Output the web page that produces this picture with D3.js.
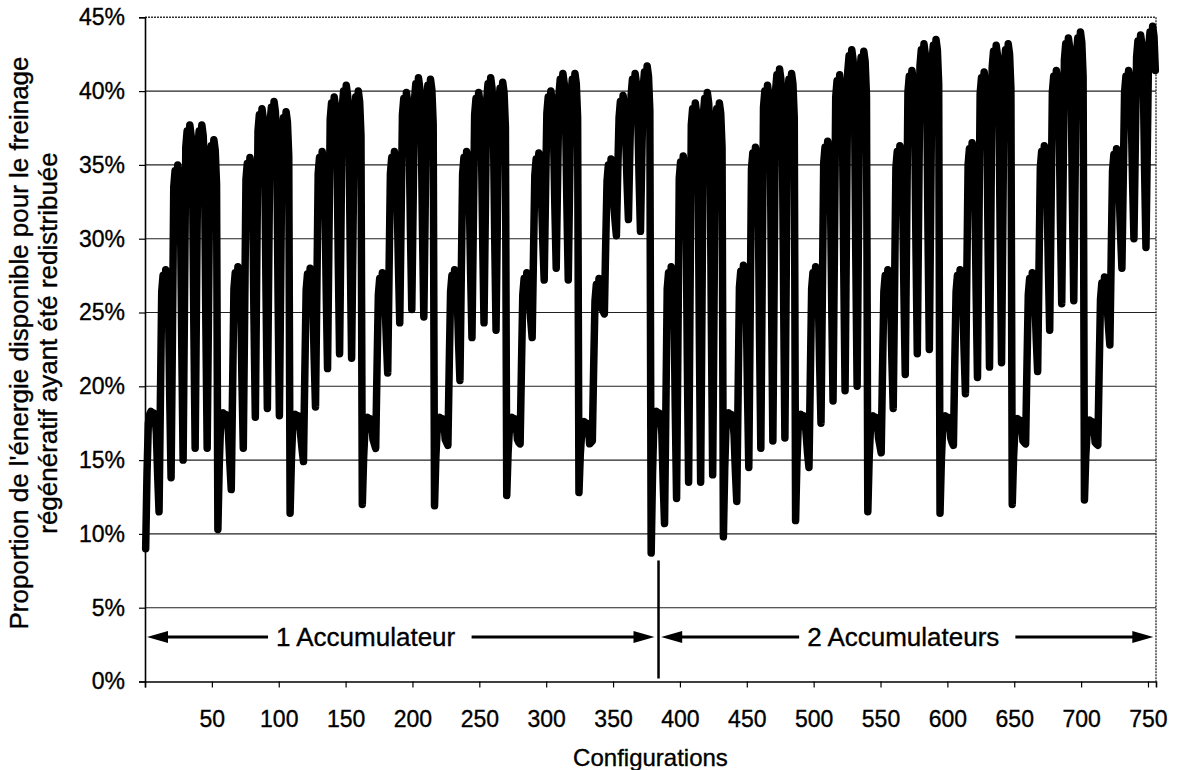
<!DOCTYPE html>
<html>
<head>
<meta charset="utf-8">
<script src="https://cdn.jsdelivr.net/npm/d3@7/dist/d3.min.js"></script>
<style>
  html, body { margin: 0; padding: 0; background: #ffffff; }
  svg { display: block; font-family: Arial, "Liberation Sans", sans-serif; }
  svg text { fill: #000; stroke: #000; stroke-width: 0.35px; }
</style>
</head>
<body>
<svg id="chart" width="1181" height="770"></svg>
<script>
// Share of available regenerative-braking energy that was redistributed,
// for each of the 756 simulated configurations (values in %).
// Configurations 1-378: one accumulator; 379-756: two accumulators.
// Each block holds 54 configurations, written as 6 rows of 9 values.
const bloc01 = [
  9.0, 14.1, 17.5, 18.1, 18.3, 17.5, 18.2, 18.0, 16.8,
  13.9, 11.5, 18.9, 26.4, 27.5, 26.5, 27.9, 27.2, 25.9,
  19.2, 13.8, 23.3, 33.5, 34.6, 33.4, 35.0, 34.3, 32.0,
  22.7, 15.0, 25.2, 36.2, 37.3, 36.1, 37.7, 37.0, 34.7,
  24.3, 15.8, 25.7, 36.2, 37.3, 36.1, 37.7, 37.0, 34.7,
  24.3, 15.8, 25.2, 35.2, 36.3, 35.1, 36.7, 36.0, 33.7
];
const bloc02 = [
  10.3, 14.6, 17.4, 18.0, 18.2, 17.4, 18.1, 17.9, 16.7,
  14.7, 13.0, 19.8, 26.6, 27.7, 26.5, 28.1, 27.4, 26.1,
  20.4, 15.8, 24.7, 34.0, 35.1, 33.9, 35.5, 34.8, 32.5,
  24.5, 17.9, 27.3, 37.3, 38.4, 37.2, 38.8, 38.1, 35.8,
  26.3, 18.5, 27.9, 37.8, 38.9, 37.7, 39.3, 38.6, 36.3,
  26.2, 18.0, 27.3, 37.1, 38.2, 37.0, 38.6, 37.9, 35.6
];
const bloc03 = [
  11.4, 15.1, 17.3, 17.9, 18.1, 17.3, 18.0, 17.8, 16.6,
  15.7, 14.9, 20.8, 26.5, 27.6, 26.4, 28.0, 27.3, 26.0,
  21.9, 18.6, 26.4, 34.4, 35.5, 34.3, 35.9, 35.2, 32.9,
  26.5, 21.2, 29.5, 38.1, 39.2, 38.0, 39.6, 38.9, 36.6,
  28.7, 22.2, 30.4, 38.9, 40.0, 38.8, 40.4, 39.7, 37.4,
  28.9, 21.9, 30.0, 38.5, 39.6, 38.4, 40.0, 39.3, 37.0
];
const bloc04 = [
  12.0, 15.2, 17.1, 17.7, 17.9, 17.1, 17.8, 17.6, 16.4,
  16.1, 15.8, 21.2, 26.2, 27.3, 26.1, 27.7, 27.0, 25.7,
  23.1, 20.9, 27.7, 34.4, 35.5, 34.3, 35.9, 35.2, 32.9,
  28.2, 24.3, 31.3, 38.4, 39.5, 38.3, 39.9, 39.2, 36.9,
  30.5, 25.2, 32.3, 39.4, 40.5, 39.3, 40.9, 40.2, 37.9,
  30.6, 24.7, 31.9, 39.3, 40.4, 39.2, 40.8, 40.1, 37.8
];
const bloc05 = [
  11.9, 15.2, 17.1, 17.7, 17.9, 17.1, 17.8, 17.6, 16.4,
  16.2, 16.0, 21.4, 26.4, 27.5, 26.3, 27.9, 27.2, 25.9,
  22.9, 20.4, 27.4, 34.4, 35.5, 34.3, 35.9, 35.2, 32.9,
  27.6, 23.3, 30.8, 38.4, 39.5, 38.3, 39.9, 39.2, 36.9,
  30.0, 24.3, 31.8, 39.4, 40.5, 39.3, 40.9, 40.2, 37.9,
  30.1, 23.8, 31.4, 39.1, 40.2, 39.0, 40.6, 39.9, 37.6
];
const bloc06 = [
  12.6, 15.5, 17.1, 17.7, 17.9, 17.1, 17.8, 17.6, 16.4,
  16.2, 16.1, 21.3, 26.2, 27.3, 26.1, 27.7, 27.0, 25.7,
  24.4, 23.3, 28.9, 34.3, 35.4, 34.2, 35.8, 35.1, 32.8,
  29.7, 27.2, 33.0, 38.5, 39.6, 38.4, 40.0, 39.3, 37.0,
  32.1, 28.0, 33.9, 39.7, 40.8, 39.6, 41.2, 40.5, 38.2,
  32.2, 27.2, 33.5, 39.7, 40.8, 39.6, 41.2, 40.5, 38.2
];
const bloc07 = [
  12.8, 15.4, 16.8, 17.4, 17.6, 16.8, 17.5, 17.3, 16.1,
  16.2, 16.3, 21.3, 25.8, 26.9, 25.7, 27.3, 26.6, 25.3,
  25.1, 24.9, 29.6, 33.9, 35.0, 33.8, 35.4, 34.7, 32.4,
  31.2, 30.2, 34.5, 38.2, 39.3, 38.1, 39.7, 39.0, 36.7,
  33.7, 31.3, 35.8, 39.7, 40.8, 39.6, 41.2, 40.5, 38.2,
  34.0, 30.5, 35.5, 40.2, 41.3, 40.1, 41.7, 41.0, 38.7
];
const bloc08 = [
  8.7, 14.0, 17.5, 18.1, 18.3, 17.5, 18.2, 18.0, 16.8,
  13.4, 10.7, 18.5, 26.6, 27.7, 26.5, 28.1, 27.4, 26.1,
  18.6, 12.4, 22.8, 34.1, 35.2, 34.0, 35.6, 34.9, 32.6,
  22.1, 13.5, 25.1, 37.7, 38.8, 37.6, 39.2, 38.5, 36.2,
  23.7, 13.5, 25.4, 38.4, 39.5, 38.3, 39.9, 39.2, 36.9,
  24.3, 14.0, 25.3, 37.7, 38.8, 37.6, 39.2, 38.5, 36.2
];
const bloc09 = [
  9.8, 14.4, 17.4, 18.0, 18.2, 17.4, 18.1, 17.9, 16.7,
  14.2, 12.2, 19.4, 26.7, 27.8, 26.6, 28.2, 27.5, 26.2,
  19.8, 14.5, 24.3, 34.7, 35.8, 34.6, 36.2, 35.5, 33.2,
  23.6, 15.8, 26.9, 38.9, 40.0, 38.8, 40.4, 39.7, 37.4,
  25.8, 16.3, 27.6, 40.0, 41.1, 39.9, 41.5, 40.8, 38.5,
  26.4, 16.5, 27.6, 39.7, 40.8, 39.6, 41.2, 40.5, 38.2
];
const bloc10 = [
  10.9, 14.9, 17.3, 17.9, 18.1, 17.3, 18.0, 17.8, 16.6,
  15.4, 14.5, 20.6, 26.6, 27.7, 26.5, 28.1, 27.4, 26.1,
  21.4, 17.5, 26.1, 35.1, 36.2, 35.0, 36.6, 35.9, 33.6,
  25.6, 19.0, 28.9, 39.6, 40.7, 39.5, 41.1, 40.4, 38.1,
  28.0, 19.7, 30.1, 41.3, 42.4, 41.2, 42.8, 42.1, 39.8,
  28.9, 20.0, 30.2, 41.2, 42.3, 41.1, 42.7, 42.0, 39.7
];
const bloc11 = [
  11.5, 15.1, 17.2, 17.8, 18.0, 17.2, 17.9, 17.7, 16.5,
  16.0, 15.5, 21.1, 26.4, 27.5, 26.3, 27.9, 27.2, 25.9,
  21.8, 18.5, 26.5, 34.8, 35.9, 34.7, 36.3, 35.6, 33.3,
  26.4, 20.8, 30.1, 39.9, 41.0, 39.8, 41.4, 40.7, 38.4,
  29.5, 22.2, 31.7, 41.7, 42.8, 41.6, 43.2, 42.5, 40.2,
  30.5, 22.5, 31.9, 42.0, 43.1, 41.9, 43.5, 42.8, 40.5
];
const bloc12 = [
  11.4, 15.0, 17.2, 17.8, 18.0, 17.2, 17.9, 17.7, 16.5,
  16.2, 16.0, 21.4, 26.4, 27.5, 26.3, 27.9, 27.2, 25.9,
  22.4, 19.5, 27.2, 35.0, 36.1, 34.9, 36.5, 35.8, 33.5,
  26.4, 20.6, 29.9, 39.8, 40.9, 39.7, 41.3, 40.6, 38.3,
  29.0, 21.3, 31.1, 41.6, 42.7, 41.5, 43.1, 42.4, 40.1,
  29.9, 21.6, 31.3, 41.7, 42.8, 41.6, 43.2, 42.5, 40.2
];
const bloc13 = [
  12.0, 15.2, 17.0, 17.6, 17.8, 17.0, 17.7, 17.5, 16.3,
  16.2, 16.1, 21.3, 26.2, 27.3, 26.1, 27.7, 27.0, 25.7,
  23.1, 21.0, 27.9, 34.8, 35.9, 34.7, 36.3, 35.6, 33.3,
  28.1, 23.8, 31.7, 39.9, 41.0, 39.8, 41.4, 40.7, 38.4,
  31.4, 25.6, 33.7, 42.1, 43.2, 42.0, 43.6, 42.9, 40.6,
  32.5, 25.8, 34.0, 42.5, 43.6, 42.4, 44.0, 43.3, 41.0
];
const bloc14 = [
  12.3, 15.3, 16.9, 17.5, 17.7, 16.9, 17.6, 17.4, 16.2,
  16.1, 16.0, 21.1, 25.9, 27.0, 25.8, 27.4, 26.7, 25.4,
  24.0, 22.8, 28.8, 34.6, 35.7, 34.5, 36.1, 35.4, 33.1,
  30.3, 28.0, 34.0, 39.9, 41.0, 39.8, 41.4, 40.7, 38.4,
  33.8, 30.0, 36.2, 42.3, 43.4, 42.2, 43.8, 43.1, 40.8,
  34.5, 29.4, 36.2, 42.9, 44.0, 42.8, 44.4, 43.7, 41.4
];

const unAccumulateur = [].concat(bloc01, bloc02, bloc03, bloc04, bloc05, bloc06, bloc07);
const deuxAccumulateurs = [].concat(bloc08, bloc09, bloc10, bloc11, bloc12, bloc13, bloc14);
const proportion = unAccumulateur.concat(deuxAccumulateurs);
const configurations = proportion.map((_, i) => i + 1);

const yTickValues = [0, 5, 10, 15, 20, 25, 30, 35, 40, 45];
const xTickValues = [50, 100, 150, 200, 250, 300, 350, 400, 450, 500, 550, 600, 650, 700, 750];
const yTitleLines = ["Proportion de l'énergie disponible pour le freinage",
                     "régénératif ayant été redistribuée"];
const xTitle = "Configurations";
const groupNames = ["1 Accumulateur", "2 Accumulateurs"];

// ---- layout ----
const svg = d3.select("#chart");
const plot = { left: 145, right: 1156, top: 17.3, bottom: 681.5 };
const x = d3.scaleLinear().domain([0, configurations.length]).range([plot.left, plot.right]);
const y = d3.scaleLinear().domain([0, 45]).range([plot.bottom, plot.top]);

const tickFont = 23;
const xTitleFont = 24;
const yTitleFont = 26;
const noteFont = 26;

// horizontal gridlines
svg.append("g")
  .selectAll("line")
  .data(yTickValues.filter(v => v > 0 && v < 45))
  .join("line")
  .attr("x1", plot.left).attr("x2", plot.right)
  .attr("y1", d => y(d)).attr("y2", d => y(d))
  .attr("stroke", "#222").attr("stroke-width", 1.1);

// plot-area frame (top and right, dotted)
svg.append("path")
  .attr("d", `M${plot.left},${y(45)}H${plot.right}V${plot.bottom}`)
  .attr("fill", "none").attr("stroke", "#333").attr("stroke-width", 1.4)
  .attr("stroke-dasharray", "2,1");

// y axis
const yAxis = svg.append("g")
  .attr("transform", `translate(${plot.left},0)`)
  .call(d3.axisLeft(y).tickValues(yTickValues).tickFormat(d => d + "%")
        .tickSize(6).tickPadding(14));
yAxis.select(".domain").attr("stroke", "#000").attr("stroke-width", 1.6);
yAxis.selectAll(".tick line").attr("stroke", "#000").attr("stroke-width", 1.2);
yAxis.selectAll("text").attr("font-size", tickFont)
  .attr("font-family", "Arial, 'Liberation Sans', sans-serif");

// x axis
const xAxis = svg.append("g")
  .attr("transform", `translate(0,${plot.bottom})`)
  .call(d3.axisBottom(x).tickValues([0].concat(xTickValues))
        .tickFormat(d => d === 0 ? "" : d).tickSize(6).tickPadding(23));
xAxis.select(".domain").attr("stroke", "#000").attr("stroke-width", 1.6);
xAxis.selectAll(".tick line").attr("stroke", "#000").attr("stroke-width", 1.2);
xAxis.selectAll("text").attr("font-size", tickFont)
  .attr("font-family", "Arial, 'Liberation Sans', sans-serif");

// the series
const line = d3.line()
  .x((d, i) => x(configurations[i] - 0.5))
  .y(d => y(d));
svg.append("path")
  .datum(proportion)
  .attr("d", line)
  .attr("fill", "none")
  .attr("stroke", "#000")
  .attr("stroke-width", 7.5)
  .attr("stroke-linejoin", "round")
  .attr("stroke-linecap", "round");

// axis titles
svg.append("text")
  .attr("x", x(378)).attr("y", 757)
  .attr("text-anchor", "middle").attr("dominant-baseline", "central")
  .attr("font-size", xTitleFont)
  .text(xTitle);

yTitleLines.forEach((t, i) => {
  svg.append("text")
    .attr("transform", `translate(${19 + i * 29},${343}) rotate(-90)`)
    .attr("text-anchor", "middle").attr("dominant-baseline", "central")
    .attr("font-size", yTitleFont)
    .text(t);
});

// accumulator ranges: double arrows with a label, and a separator
const arrowY = 637;
const groups = [
  { name: groupNames[0], from: 1.5, to: 381, labelAt: 165 },
  { name: groupNames[1], from: 386, to: 754, labelAt: 567 }
];
const head = (tipX, dir) => {
  const len = 21, half = 6;
  return `M${tipX},${arrowY}L${tipX - dir * len},${arrowY - half}L${tipX - dir * len},${arrowY + half}Z`;
};
groups.forEach(g => {
  const label = svg.append("text")
    .attr("x", x(g.labelAt)).attr("y", arrowY)
    .attr("text-anchor", "middle").attr("dominant-baseline", "central")
    .attr("font-size", noteFont)
    .text(g.name);
  const bb = label.node().getBBox();
  const x0 = x(g.from), x1 = x(g.to);
  svg.append("line")
    .attr("x1", x0 + 10).attr("x2", bb.x - 8)
    .attr("y1", arrowY).attr("y2", arrowY)
    .attr("stroke", "#000").attr("stroke-width", 3);
  svg.append("line")
    .attr("x1", bb.x + bb.width + 16).attr("x2", x1 - 10)
    .attr("y1", arrowY).attr("y2", arrowY)
    .attr("stroke", "#000").attr("stroke-width", 3);
  svg.append("path").attr("d", head(x0, -1)).attr("fill", "#000");
  svg.append("path").attr("d", head(x1, 1)).attr("fill", "#000");
});

svg.append("line")
  .attr("x1", x(384)).attr("x2", x(384))
  .attr("y1", y(8.2)).attr("y2", plot.bottom - 3)
  .attr("stroke", "#000").attr("stroke-width", 2.5);
</script>
</body>
</html>
